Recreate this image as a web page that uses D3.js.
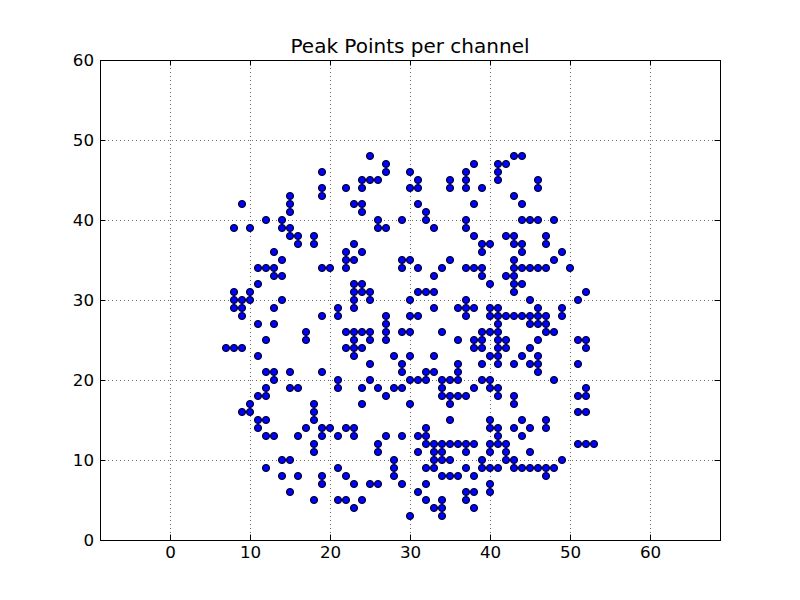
<!DOCTYPE html>
<html><head><meta charset="utf-8">
<script src="https://cdn.jsdelivr.net/npm/d3@7/dist/d3.min.js"></script>
<style>body{margin:0;background:#fff}svg{display:block}text{font-family:"DejaVu Sans",sans-serif}</style>
</head><body><svg id="c" width="800" height="600"></svg>
<script>
const title = "Peak Points per channel";
const xTicks = [0,10,20,30,40,50,60];
const yTicks = [0,10,20,30,40,50,60];
// rows of points: y value -> x values
const rowY = [48,47,46,45,44,43,42,41,40,39,38,37,36,35,34,33,32,31,30,29,28,27,26,25,24,23,22,21,20,19,18,17,16,15,14,13,12,11,10,9,8,7,6,5,4,3];
const rowX = [
 [25,43,44],
 [27,38,41,42],
 [19,27,30,37,41],
 [24,25,26,31,35,37,41,46],
 [19,22,24,30,31,35,37,39,46],
 [15,19,43],
 [9,15,23,24,31,38,44],
 [15,24,32],
 [12,14,26,29,32,37,44,45,46,48],
 [8,10,14,15,26,27,33,37],
 [15,16,18,38,42,43,47],
 [16,18,23,39,40,43,44,47],
 [13,22,24,39,44,49],
 [14,22,23,29,30,35,43,48],
 [11,12,13,19,20,22,29,31,34,37,38,39,43,44,45,46,47,50],
 [13,14,33,39,42,43],
 [11,23,24,40,43,44],
 [8,10,23,24,25,31,32,33,43,52],
 [8,9,10,14,23,25,30,37,45,51],
 [8,9,13,21,23,33,36,37,38,40,41,46,49],
 [9,19,21,27,30,31,37,40,41,42,43,44,45,46,47,49],
 [11,13,27,41,45,46,47],
 [17,22,23,24,25,27,29,30,34,39,40,41,47,48],
 [12,17,23,25,27,36,38,39,41,42,46,51,52],
 [7,8,9,22,23,24,38,39,41,42,45,52],
 [11,23,28,30,33,40,41,44,46],
 [25,29,36,39,41,43,45,46,51],
 [12,13,15,19,29,32,33,36,46],
 [13,21,25,30,31,32,34,35,36,39,40,48],
 [12,15,16,21,24,26,28,29,34,38,40,41,52],
 [11,12,27,34,35,36,37,41,43,51,52],
 [10,18,24,30,35,43],
 [9,10,18,51,52],
 [11,12,18,35,40,44,47],
 [11,17,19,20,22,23,32,40,41,43,45,47],
 [12,13,16,19,21,23,27,29,31,32,41,44],
 [18,26,32,33,34,35,36,37,38,40,41,42,51,52,53],
 [18,26,31,33,34,37,40,42,45],
 [14,15,28,33,34,35,39,42,43,49],
 [12,21,28,32,33,37,39,40,41,43,44,45,46,47,48],
 [14,16,19,22,28,34,35,36,38,47],
 [19,23,25,26,29,32,40],
 [15,31,37,38,40],
 [18,21,22,24,32,34,37],
 [23,33,34,38],
 [30,34]
];
const points = [];
rowY.forEach((y,i)=>rowX[i].forEach(x=>points.push({x,y})));

const svg = d3.select("#c");
const L=100,R=720,T=60,B=540;
const x = d3.scaleLinear().domain([-8.75,68.75]).range([L,R]);
const y = d3.scaleLinear().domain([0,60]).range([B,T]);

// grid
const g = svg.append("g");
g.selectAll(".gx").data(xTicks).join("line")
 .attr("x1",d=>x(d)+0.5).attr("x2",d=>x(d)+0.5).attr("y1",T).attr("y2",B)
 .attr("stroke","#000").attr("stroke-width",0.6).attr("stroke-dasharray","1,3");
g.selectAll(".gy").data(yTicks).join("line")
 .attr("y1",d=>y(d)+0.5).attr("y2",d=>y(d)+0.5).attr("x1",L).attr("x2",R)
 .attr("stroke","#000").attr("stroke-width",0.6).attr("stroke-dasharray","1,3");

// points
svg.append("g").selectAll("circle").data(points).join("circle")
 .attr("cx",d=>x(d.x)).attr("cy",d=>y(d.y)).attr("r",3.6)
 .attr("fill","#0000ff").attr("stroke","#000").attr("stroke-width",1);

// axes (ticks inward)
const ax = (axis)=>axis.tickSizeInner(-5.5).tickSizeOuter(0).tickPadding(6);
svg.append("g").attr("transform",`translate(0,${B})`).call(ax(d3.axisBottom(x).tickValues(xTicks)).tickFormat(d3.format("d")));
svg.append("g").attr("transform",`translate(0,${T})`).call(ax(d3.axisTop(x).tickValues(xTicks)).tickFormat(""));
svg.append("g").attr("transform",`translate(${L},0)`).call(ax(d3.axisLeft(y).tickValues(yTicks)).tickFormat(d3.format("d")));
svg.append("g").attr("transform",`translate(${R},0)`).call(ax(d3.axisRight(y).tickValues(yTicks)).tickFormat(""));
svg.selectAll(".domain").remove();
svg.selectAll(".tick text").attr("font-size",16.7).attr("fill","#000").style("font-family","DejaVu Sans");
svg.selectAll(".tick line").attr("stroke","#000");
svg.append("rect").attr("x",L+0.5).attr("y",T+0.5).attr("width",R-L).attr("height",B-T)
 .attr("fill","none").attr("stroke","#000").attr("stroke-width",1);

svg.append("text").attr("x",(L+R)/2).attr("y",T-7).attr("text-anchor","middle")
 .attr("font-size",20).text(title);
</script></body></html>
